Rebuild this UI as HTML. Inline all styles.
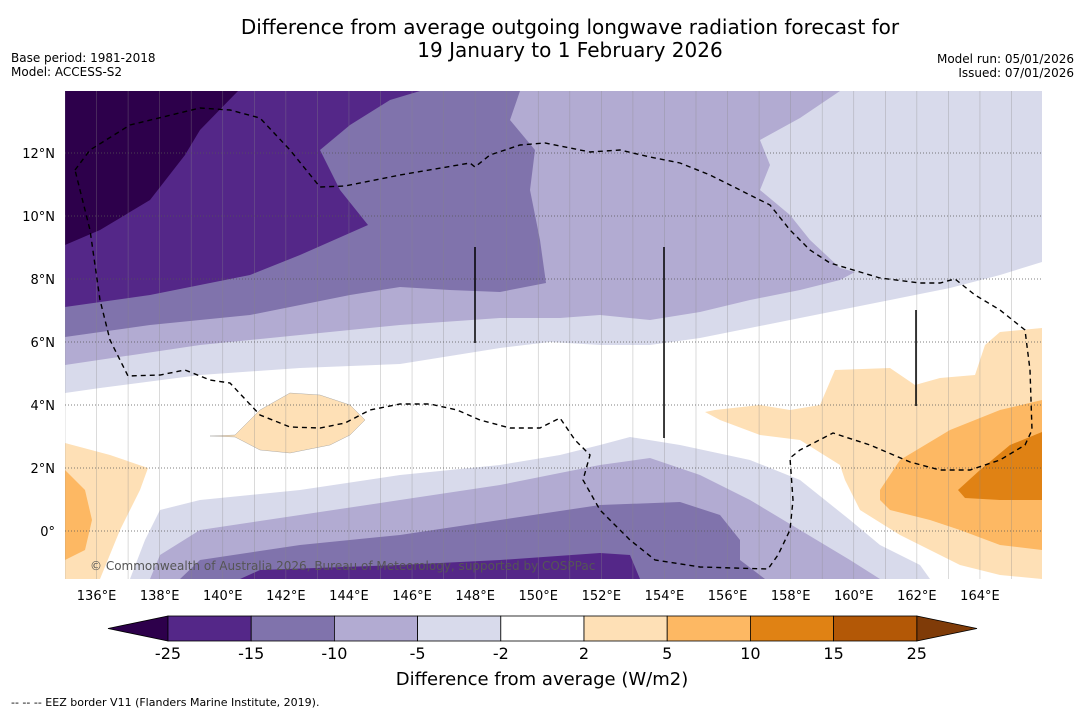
<!DOCTYPE html>
<html><head><meta charset="utf-8"><style>
body{margin:0;background:#fff;font-family:"DejaVu Sans","Liberation Sans",sans-serif;}
svg{display:block}
</style></head><body>
<svg width="1085" height="713" viewBox="0 0 1085 713" xmlns="http://www.w3.org/2000/svg" font-family="DejaVu Sans, Liberation Sans, sans-serif">
<text x="570" y="34" font-size="20" text-anchor="middle">Difference from average outgoing longwave radiation forecast for</text>
<text x="570" y="57" font-size="20" text-anchor="middle">19 January to 1 February 2026</text>
<text x="11" y="62" font-size="12">Base period: 1981-2018</text>
<text x="11" y="76" font-size="12">Model: ACCESS-S2</text>
<text x="1074" y="63" font-size="12" text-anchor="end">Model run: 05/01/2026</text>
<text x="1074" y="77" font-size="12" text-anchor="end">Issued: 07/01/2026</text>
<defs><clipPath id="mapclip"><rect x="65" y="91" width="977" height="488"/></clipPath></defs>
<g clip-path="url(#mapclip)">
<rect x="65" y="91" width="977" height="488" fill="#ffffff"/>
<path fill="#d8daeb" d="M65,91 L1042,91 L1042,262 L1000,275 L950,288 L900,298 L850,308 L800,318 L750,328 L700,338 L650,345 L600,345 L550,342 L500,348 L400,364 L300,368 L200,375 L100,388 L65,393 Z"/>
<path fill="#b2abd2" d="M65,91 L840,91 L800,118 L760,140 L770,165 L760,190 L790,215 L810,240 L840,268 L855,272 L840,280 L800,290 L750,300 L700,312 L650,320 L600,315 L560,318 L500,318 L400,325 L300,335 L200,345 L65,365 Z"/>
<path fill="#8073ac" d="M65,91 L520,91 L510,120 L535,150 L530,190 L540,240 L546,283 L500,292 L450,290 L400,287 L350,295 L250,315 L150,325 L65,337 Z"/>
<path fill="#542788" d="M65,91 L420,91 L390,100 L350,125 L320,150 L340,190 L368,225 L300,255 L250,275 L150,295 L65,307 Z"/>
<path fill="#2d004b" d="M65,91 L238,91 L200,130 L185,155 L150,200 L100,230 L65,245 Z"/>
<path fill="#d8daeb" d="M130,579 L145,540 L160,510 L200,500 L300,490 L400,475 L500,465 L560,455 L600,445 L630,437 L680,445 L750,460 L800,480 L850,520 L880,545 L920,565 L930,579 Z"/>
<path fill="#b2abd2" d="M150,579 L160,555 L200,530 L300,515 L400,500 L500,485 L600,465 L650,458 L700,475 L750,500 L800,530 L850,560 L880,579 Z"/>
<path fill="#8073ac" d="M180,579 L200,560 L300,545 L400,535 L500,520 L600,505 L680,502 L720,515 L740,540 L740,560 L765,579 Z"/>
<path fill="#542788" d="M240,579 L260,570 L400,565 L500,560 L600,553 L630,555 L640,579 Z"/>
<path fill="#fee0b6" d="M65,443 L110,455 L148,468 L140,490 L120,530 L100,579 L65,579 Z"/>
<path fill="#fdb863" d="M65,470 L85,490 L92,520 L85,550 L65,560 Z"/>
<path fill="#fee0b6" stroke="#999" stroke-width="0.4" d="M210,436 L235,435 L260,410 L290,393 L320,395 L350,405 L365,420 L350,435 L330,445 L290,453 L260,450 L235,437 Z"/>
<path fill="#fee0b6" d="M705,412 L715,410 L760,405 L790,410 L820,405 L835,370 L890,368 L915,385 L940,378 L975,375 L985,345 L1000,332 L1042,328 L1042,579 L1000,575 L960,565 L930,550 L900,535 L860,510 L845,480 L840,465 L800,440 L760,435 L720,420 Z"/>
<path fill="#fdb863" d="M880,490 L900,460 L950,430 L1000,410 L1042,400 L1042,550 L1000,545 L960,530 L930,520 L890,510 L880,500 Z"/>
<path fill="#e08214" d="M958,490 L980,470 L1010,445 L1042,432 L1042,500 L1000,500 L965,498 Z"/>
<g id="grid"></g>
<path fill="none" stroke="#000" stroke-width="1.4" stroke-dasharray="5,4" d="M75,170 L90,150 L130,125 L200,108 L230,110 L260,118 L290,150 L320,187 L345,186 L400,175 L470,163 L475,167 L490,155 L520,145 L545,143 L570,148 L590,152 L620,150 L650,157 L680,163 L710,175 L740,190 L770,205 L790,230 L810,250 L830,263 L860,272 L880,278 L920,283 L940,283 L955,279 L975,295 L1000,310 L1025,330 L1030,370 L1032,430 L1025,445 L1000,460 L970,470 L940,470 L910,462 L870,445 L833,433 L800,450 L790,458 L793,500 L790,530 L778,555 L768,569 L700,567 L655,560 L630,540 L600,510 L583,480 L590,455 L575,440 L560,418 L540,428 L510,428 L480,420 L457,410 L430,404 L400,404 L370,410 L345,423 L320,428 L290,427 L260,415 L230,383 L210,380 L185,370 L160,375 L128,376 L110,340 L100,300 L90,230 L80,190 Z"/>
<line x1="475" y1="247" x2="475" y2="343" stroke="#000" stroke-width="1.5"/>
<line x1="664" y1="247" x2="664" y2="438" stroke="#000" stroke-width="1.5"/>
<line x1="916" y1="310" x2="916" y2="406" stroke="#000" stroke-width="1.5"/>
<text x="90" y="570" font-size="12" fill="#555">© Commonwealth of Australia 2026, Bureau of Meteorology, supported by COSPPac</text>
</g>
<g id="xticks"></g>
<g id="yticks"></g>
<g id="cbar"></g>
<text x="542" y="685" font-size="18" text-anchor="middle">Difference from average (W/m2)</text>
<text x="11" y="706" font-size="11">--  --  -- EEZ border V11 (Flanders Marine Institute, 2019).</text>
</svg>
<script>
const NS="http://www.w3.org/2000/svg";
const lonTicks=[136,138,140,142,144,146,148,150,152,154,156,158,160,162,164];
const latTicks=[12,10,8,6,4,2,0];
const levels=[-25,-15,-10,-5,-2,2,5,10,15,25];
const levelColors=["#542788","#8073ac","#b2abd2","#d8daeb","#ffffff","#fee0b6","#fdb863","#e08214","#b35806"];
const extendColors=["#2d004b","#7f3b08"];
const lonX=l=>65+(l-135)*31.55;
const latY=l=>531-l*31.5;
function mk(tag,attrs,parent){const e=document.createElementNS(NS,tag);for(const k in attrs)e.setAttribute(k,attrs[k]);parent.appendChild(e);return e;}
const grid=document.getElementById('grid');
for(let l=135;l<=166;l++){
 const ln=mk('line',{x1:lonX(l),x2:lonX(l),y1:91,y2:579,stroke:'#888','stroke-width':0.6,'stroke-opacity':0.5},grid);
 
 
}
latTicks.forEach(v=>{
 const ln=mk('line',{x1:65,x2:1042,y1:latY(v),y2:latY(v),stroke:'#555','stroke-width':0.7,'stroke-dasharray':'1,2'},grid);
 
 
});
const xt=document.getElementById('xticks');
lonTicks.forEach(v=>{
 const t=mk('text',{x:lonX(v),y:600,'font-size':13,'text-anchor':'middle'},xt);t.textContent=v+'°E';
 
 
});
const yt=document.getElementById('yticks');
latTicks.forEach(v=>{
 const t=mk('text',{x:55,y:latY(v)+5,'font-size':13,'text-anchor':'end'},yt);t.textContent=v===0?'0°':v+'°N';
 
 
});
const cb=document.getElementById('cbar');
const cx=i=>168+i*83.2, cy=616, ch=25;
const lt=mk('polygon',{points:`108,${cy+ch/2} ${cx(0)},${cy} ${cx(0)},${cy+ch}`,fill:extendColors[0],stroke:'#000','stroke-width':0.8},cb);


const rt=mk('polygon',{points:`977,${cy+ch/2} ${cx(9)},${cy} ${cx(9)},${cy+ch}`,fill:extendColors[1],stroke:'#000','stroke-width':0.8},cb);


levelColors.forEach((c,i)=>{
 const r=mk('rect',{x:cx(i),y:cy,width:83.2,height:ch,fill:c,stroke:'#000','stroke-width':0.8},cb);
 
 
});
levels.forEach((v,i)=>{
 const t=mk('text',{x:cx(i),y:659,'font-size':16,'text-anchor':'middle'},cb);t.textContent=v;
 
 
});
</script>
</body></html>
